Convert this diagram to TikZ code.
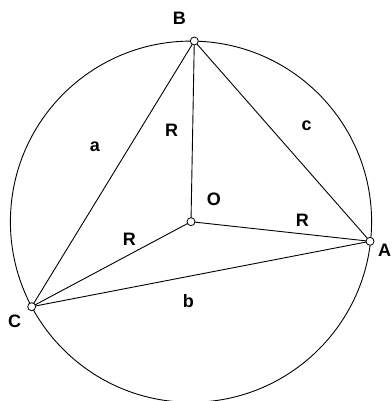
\documentclass[tikz,border=0pt]{standalone}
\usepackage{fontspec}
\setmainfont{Liberation Sans}
\begin{document}
\begin{tikzpicture}[x=1pt,y=-1pt,
  edge/.style={line width=0.9pt,black},
  pt/.style={circle,draw=black,fill=white,line width=0.8pt,inner sep=0pt,minimum size=8pt},
  lbl/.style={font=\fontsize{18}{18}\selectfont\bfseries,inner sep=0pt}]
\useasboundingbox (0,0) rectangle (391,401);
\coordinate (Oc) at (191,221.7);
\coordinate (Bc) at (194.3,41);
\coordinate (Ac) at (370,241.3);
\coordinate (Cc) at (31.7,306.7);
\draw[edge] (Oc) circle (180.6);
\draw[edge] (Cc) -- (Bc) -- (Ac) -- (Cc);
\draw[edge] (Oc) -- (Bc);
\draw[edge] (Oc) -- (Ac);
\draw[edge] (Oc) -- (Cc);
\node[pt] (O) at (Oc) {};
\node[pt] (B) at (Bc) {};
\node[pt] (A) at (Ac) {};
\node[pt] (C) at (Cc) {};
\node[lbl] (lB) at (179.3,18.3) {B};
\node[lbl] (lA) at (384.5,250.7) {A};
\node[lbl] (lC) at (14.5,321.7) {C};
\node[lbl] (lO) at (213.8,199.2) {O};
\node[lbl] (la) at (95,146.7) {a};
\node[lbl] (lb) at (188.3,300.7) {b};
\node[lbl] (lc) at (306.7,126) {c};
\node[lbl] (R1) at (171.7,130) {R};
\node[lbl] (R2) at (129.3,239.3) {R};
\node[lbl] (R3) at (302.3,220) {R};
\end{tikzpicture}
\end{document}
